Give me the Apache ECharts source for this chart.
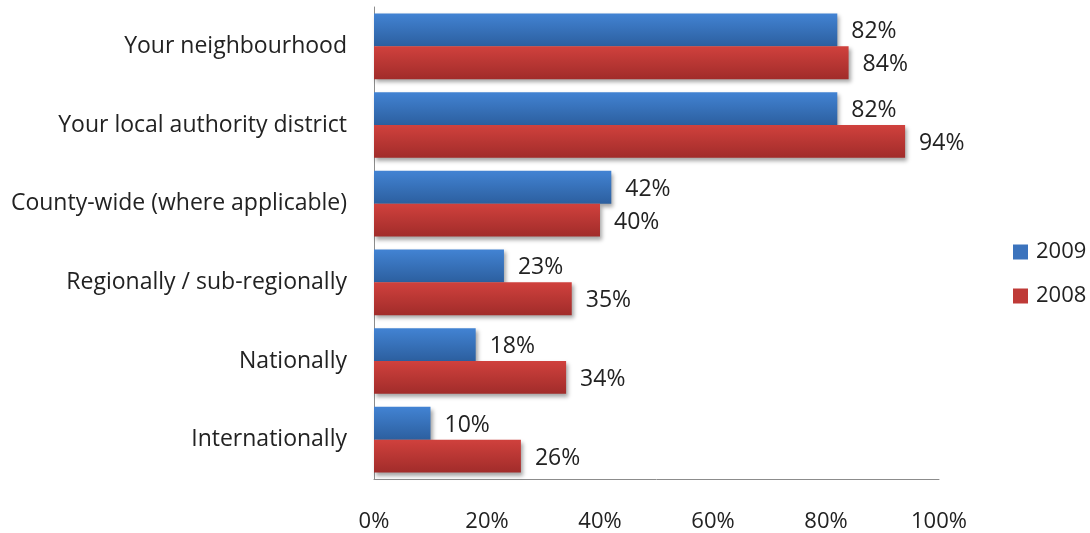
<!DOCTYPE html>
<html>
<head>
<meta charset="utf-8">
<script src="https://cdn.jsdelivr.net/npm/echarts@6/dist/echarts.min.js"></script>
<style>
  html, body { margin: 0; padding: 0; background: #fff; }
  #chart { width: 1090px; height: 533px; }
</style>
</head>
<body>
<div id="chart"></div>
<script>
const categories = [
  'Your neighbourhood',
  'Your local authority district',
  'County-wide (where applicable)',
  'Regionally / sub-regionally',
  'Nationally',
  'Internationally'
];
const seriesNames = ['2009', '2008'];
const values2009 = [82, 82, 42, 23, 18, 10];
const values2008 = [84, 94, 40, 35, 34, 26];
const xTicks = [0, 20, 40, 60, 80, 100];

const FONT = '"Open Sans", sans-serif';
const TEXT = '#222222';

function grad(top, bottom) {
  return new echarts.graphic.LinearGradient(0, 0, 0, 1, [
    { offset: 0, color: top },
    { offset: 1, color: bottom }
  ]);
}

const blue = grad('#4283d3', '#2c5f9f');
const red = grad('#d0413d', '#a12c2a');

function barSeries(name, data, fill) {
  return {
    name: name,
    type: 'bar',
    data: data,
    barGap: '0%',
    barCategoryGap: '16.5%',
    itemStyle: {
      color: fill,
      shadowBlur: 4,
      shadowOffsetX: 2,
      shadowOffsetY: 3,
      shadowColor: 'rgba(0,0,0,0.35)'
    },
    label: {
      show: true,
      position: 'right',
      distance: 14,
      offset: [0, 2],
      formatter: p => p.value + '%',
      fontFamily: FONT,
      fontSize: 23,
      color: TEXT
    },
    emphasis: { disabled: true }
  };
}

const chart = echarts.init(document.getElementById('chart'), null, { renderer: 'canvas' });
chart.setOption({
  animation: false,
  backgroundColor: '#fff',
  grid: { left: 374, right: 151, top: 7, bottom: 53, containLabel: false },
  legend: {
    orient: 'vertical',
    left: 1008,
    top: 236,
    itemWidth: 15,
    itemHeight: 15,
    itemGap: 22,
    icon: 'rect',
    data: [
      { name: seriesNames[0], itemStyle: { color: '#3b73bd' } },
      { name: seriesNames[1], itemStyle: { color: '#bf3a37' } }
    ],
    textStyle: { fontFamily: FONT, fontSize: 22, color: TEXT, padding: [0, 0, 0, 3] }
  },
  xAxis: {
    type: 'value',
    min: xTicks[0],
    max: xTicks[xTicks.length - 1],
    interval: xTicks[1] - xTicks[0],
    axisLine: { show: true, lineStyle: { color: '#8c8c8c', width: 1 } },
    axisTick: { show: false },
    splitLine: { show: false },
    axisLabel: {
      formatter: v => v + '%',
      fontFamily: FONT,
      fontSize: 22,
      color: TEXT,
      margin: 32
    }
  },
  yAxis: {
    type: 'category',
    inverse: true,
    data: categories,
    axisLine: { show: true, lineStyle: { color: '#8c8c8c', width: 1 } },
    axisTick: { show: false },
    axisLabel: {
      fontFamily: FONT,
      fontSize: 23,
      color: TEXT,
      margin: 27,
      padding: [8, 0, 0, 0]
    }
  },
  series: [
    barSeries(seriesNames[0], values2009, blue),
    barSeries(seriesNames[1], values2008, red)
  ]
});
</script>
</body>
</html>
